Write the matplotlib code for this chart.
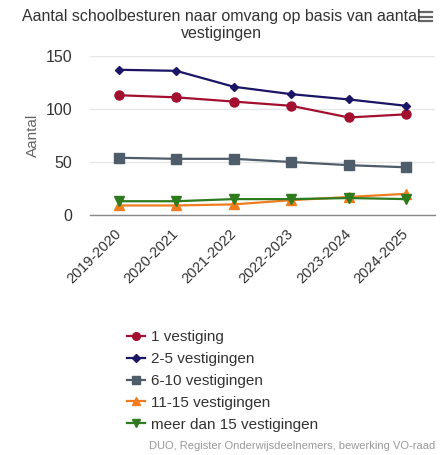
import matplotlib
matplotlib.use("Agg")
import matplotlib.pyplot as plt
from matplotlib.lines import Line2D

plt.rcParams['font.family'] = ['Liberation Sans', 'DejaVu Sans']

years = ["2019-2020", "2020-2021", "2021-2022", "2022-2023", "2023-2024", "2024-2025"]
v1 = [113, 111, 107, 103, 92, 95]
v2_5 = [137, 136, 121, 114, 109, 103]
v6_10 = [54, 53, 53, 50, 47, 45]
v11_15 = [9, 9, 10, 14, 17, 20]
v15plus = [13, 13, 15, 15, 16, 15]
series_names = ["1 vestiging", "2-5 vestigingen", "6-10 vestigingen",
                "11-15 vestigingen", "meer dan 15 vestigingen"]
yticks = [0, 50, 100, 150]

colors = ["#a30f2e", "#1b1565", "#4f5d6b", "#f07c1e", "#2e7a1e"]
markers = ["o", "D", "s", "^", "v"]
msizes = [6.5, 4.5, 6.5, 6.5, 6.5]

fig = plt.figure(figsize=(4.43, 4.55), dpi=100)
ax = fig.add_axes([90/443, 1 - 215/455, 345/443, 159/455])

x = list(range(len(years)))
for vals, name, c, m, ms in zip([v1, v2_5, v6_10, v11_15, v15plus], series_names, colors, markers, msizes):
    ax.plot(x, vals, color=c, marker=m, markersize=ms, linewidth=1.6, label=name, zorder=3)

ax.set_xlim(-0.5, len(years) - 0.5)
ax.set_ylim(0, 150)
ax.set_yticks(yticks)
ax.set_yticklabels([str(t) for t in yticks], fontsize=11.5, color="#333333")
ax.set_xticks(x)
ax.set_xticklabels(years, rotation=45, ha="right", va="center", rotation_mode="anchor",
                   fontsize=10.5, color="#333333")
ax.tick_params(axis="x", length=0, pad=12)
ax.tick_params(axis="y", length=0, pad=13)
ax.grid(axis="y", color="#e6e6e6", linewidth=1)
ax.set_axisbelow(True)
for s in ["top", "right", "left"]:
    ax.spines[s].set_visible(False)
ax.spines["bottom"].set_color("#888888")
ax.spines["bottom"].set_linewidth(1)
ax.spines["bottom"].set_zorder(4)
ax.set_ylabel("Aantal", fontsize=11, color="#666666", labelpad=4)

fig.text(0.5, 1 - 25/455, "Aantal schoolbesturen naar omvang op basis van aantal\nvestigingen",
         ha="center", va="center", fontsize=11.5, color="#333333", linespacing=1.15)

# export menu icon
for yy in [12, 16.5, 21]:
    fig.add_artist(Line2D([419/443, 432/443], [1 - yy/455, 1 - yy/455], color="#666666", linewidth=1.6))

handles, labels = ax.get_legend_handles_labels()
fig.legend(handles, labels, loc="upper left", bbox_to_anchor=(127/443, 1 - 330/455),
           frameon=False, fontsize=11, handlelength=1.2, handletextpad=0.4,
           labelspacing=0.52, labelcolor="#333333", markerscale=0.85,
           borderpad=0, borderaxespad=0)

fig.text(435/443, 1 - 446/455, "DUO, Register Onderwijsdeelnemers, bewerking VO-raad",
         ha="right", va="center", fontsize=8, color="#999999")

fig.savefig("out.png", dpi=100)
